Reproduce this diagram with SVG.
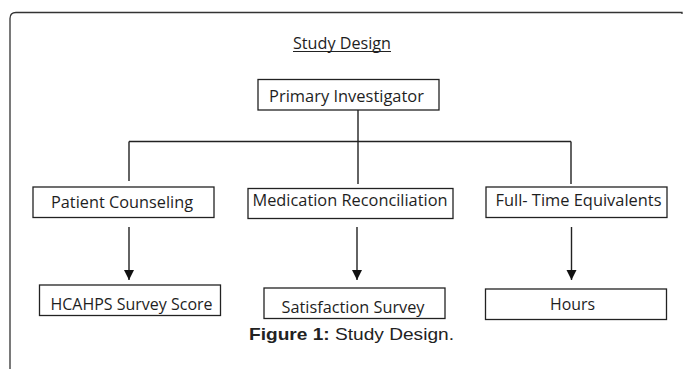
<svg xmlns="http://www.w3.org/2000/svg" width="683" height="369" viewBox="0 0 683 369">
  <style>
    .box { fill: #ffffff; stroke: #222222; stroke-width: 1.3; }
    .lbl { font-family: "Open Sans", "Noto Sans", sans-serif; font-size: 15.5px; fill: #1e1e1e; text-anchor: start; }
    .conn { stroke: #222222; stroke-width: 1.4; fill: none; }
    .cap { font-family: "Liberation Sans", Arial, sans-serif; font-size: 16.5px; fill: #222222; }
  </style>
  <defs>
    <marker id="arr" markerUnits="userSpaceOnUse" markerWidth="10" markerHeight="12" refX="10" refY="5" orient="auto">
      <path d="M0,0 L10,5 L0,10 Z" fill="#111111"/>
    </marker>
  </defs>
  <rect width="683" height="369" fill="#ffffff"/>
  <path d="M10,369 V18.5 Q10,12.5 16,12.5 H682 V14" fill="none" stroke="#333333" stroke-width="1.3"/>

  <g id="title">
    <text class="lbl" x="293" y="49" textLength="98" lengthAdjust="spacingAndGlyphs">Study Design</text>
    <line x1="293" y1="51.5" x2="391" y2="51.5" stroke="#222222" stroke-width="1"/>
  </g>

  <g id="connectors">
    <line class="conn" x1="358" y1="110" x2="358" y2="184"/>
    <line class="conn" x1="129" y1="141.5" x2="571" y2="141.5"/>
    <line class="conn" x1="129" y1="141.5" x2="129" y2="181"/>
    <line class="conn" x1="571" y1="141.5" x2="571" y2="184"/>
    <line class="conn" x1="129" y1="227" x2="129" y2="280" marker-end="url(#arr)"/>
    <line class="conn" x1="357" y1="227" x2="357" y2="280" marker-end="url(#arr)"/>
    <line class="conn" x1="571.5" y1="227" x2="571.5" y2="280" marker-end="url(#arr)"/>
  </g>

  <g id="primary-investigator">
    <rect class="box" x="258" y="79.5" width="181" height="30.5"/>
    <text class="lbl" x="269" y="101.5" textLength="155" lengthAdjust="spacingAndGlyphs">Primary Investigator</text>
  </g>
  <g id="patient-counseling">
    <rect class="box" x="33" y="187" width="181" height="30.5"/>
    <text class="lbl" x="51" y="207.5" textLength="142" lengthAdjust="spacingAndGlyphs">Patient Counseling</text>
  </g>
  <g id="medication-reconciliation">
    <rect class="box" x="248" y="188.5" width="205" height="30"/>
    <text class="lbl" x="252.5" y="205.5" textLength="195" lengthAdjust="spacingAndGlyphs">Medication Reconciliation</text>
  </g>
  <g id="full-time-equivalents">
    <rect class="box" x="486" y="187" width="181" height="30.5"/>
    <text class="lbl" x="495.5" y="205.5" textLength="166" lengthAdjust="spacingAndGlyphs">Full- Time Equivalents</text>
  </g>
  <g id="hcahps-survey-score">
    <rect class="box" x="39.5" y="285" width="181" height="30.5"/>
    <text class="lbl" x="50.5" y="309.5" textLength="162" lengthAdjust="spacingAndGlyphs">HCAHPS Survey Score</text>
  </g>
  <g id="satisfaction-survey">
    <rect class="box" x="264" y="288" width="181" height="30.5"/>
    <text class="lbl" x="281.5" y="312.5" textLength="143" lengthAdjust="spacingAndGlyphs">Satisfaction Survey</text>
  </g>
  <g id="hours">
    <rect class="box" x="485.5" y="289" width="181" height="30.5"/>
    <text class="lbl" x="550" y="310" textLength="45" lengthAdjust="spacingAndGlyphs">Hours</text>
  </g>

  <g id="caption">
    <text class="cap" x="249" y="340" textLength="205" lengthAdjust="spacingAndGlyphs"><tspan font-weight="bold">Figure 1:</tspan> Study Design.</text>
  </g>
</svg>
